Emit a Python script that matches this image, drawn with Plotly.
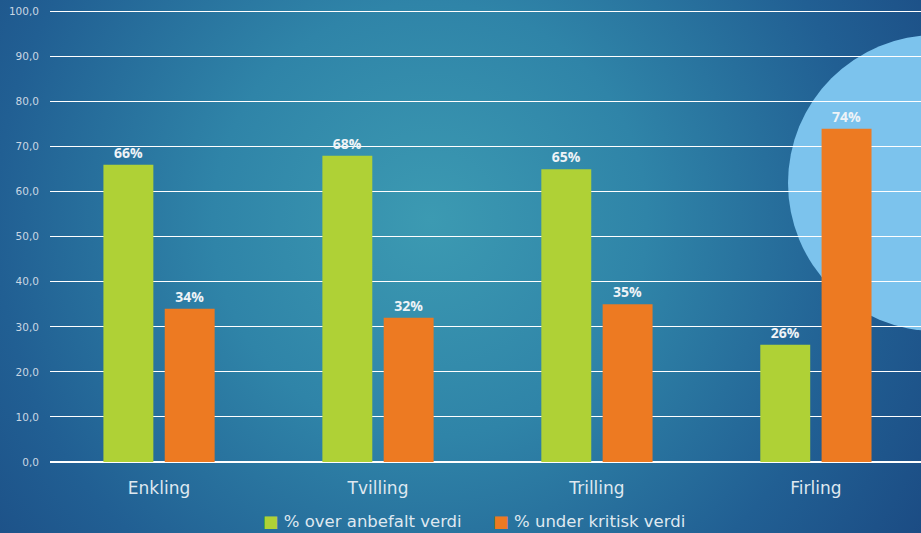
import base64
import plotly.graph_objects as go

categories = ["Enkling", "Tvilling", "Trilling", "Firling"]
over_anbefalt = [66, 68, 65, 26]
under_kritisk = [34, 32, 35, 74]
series_names = ["% over anbefalt verdi", "% under kritisk verdi"]
series_colors = ["#afd136", "#ed7a22"]
y_ticks = [0, 10, 20, 30, 40, 50, 60, 70, 80, 90, 100]

W, H = 921, 533
L, R, T, B = 50, 0, 7, 71
PW, PH = W - L - R, H - T - B
Y_MAX = 101

# Blue radial backdrop with a pale blue disc on the right edge
svg = f"""<svg xmlns='http://www.w3.org/2000/svg' width='{W}' height='{H}' viewBox='0 0 {W} {H}'>
<defs>
<radialGradient id='g' gradientUnits='userSpaceOnUse' cx='430' cy='220' r='620'>
<stop offset='0' stop-color='#3c9ab2'/>
<stop offset='0.35' stop-color='#2f84a8'/>
<stop offset='0.7' stop-color='#215f93'/>
<stop offset='1' stop-color='#1a4780'/>
</radialGradient>
</defs>
<rect width='{W}' height='{H}' fill='url(#g)'/>
<circle cx='936' cy='183' r='148' fill='#7cc3ed'/>
</svg>"""
bg_src = "data:image/svg+xml;base64," + base64.b64encode(svg.encode()).decode()

label_font = dict(family="'Open Sans', Lato, sans-serif", size=14, color="#eef3f7")
text_font = "'DejaVu Sans', 'Noto Sans', sans-serif"

bar_w = 0.228
half_gap = 0.026
fig = go.Figure()
for vals, name, col, off in [
    (over_anbefalt, series_names[0], series_colors[0], -bar_w - half_gap),
    (under_kritisk, series_names[1], series_colors[1], half_gap),
]:
    fig.add_trace(go.Bar(
        x=categories, y=vals, name=name,
        width=bar_w, offset=off,
        marker=dict(color=col, line=dict(width=0)),
        texttemplate="<b>%{y:.0f}%</b>", textposition="outside",
        textfont=label_font, cliponaxis=False,
    ))

# Legend drawn as one line of text with coloured squares
legend_text = "      ".join(
    f"<span style='color:{c}'>■</span> {n}" for n, c in zip(series_names, series_colors)
)

fig.update_layout(
    width=W, height=H,
    margin=dict(l=L, r=R, t=T, b=B, autoexpand=False),
    paper_bgcolor="#1a4780",
    plot_bgcolor="rgba(0,0,0,0)",
    barmode="overlay",
    separators=",.",
    showlegend=False,
    images=[dict(source=bg_src, xref="paper", yref="paper",
                 x=-L / PW, y=1 + T / PH, sizex=W / PW, sizey=H / PH,
                 xanchor="left", yanchor="top", sizing="stretch", layer="below")],
    annotations=[dict(
        text=legend_text, xref="paper", yref="paper",
        x=(474 - L) / PW, y=-(521 - (T + PH)) / PH,
        xanchor="center", yanchor="middle", showarrow=False,
        font=dict(family=text_font, size=16.5, color="#dfe8f0"),
    )],
    xaxis=dict(
        range=[-0.498, 3.48], showgrid=False, showline=False, ticks="",
        tickfont=dict(family=text_font, size=17, color="#dfe8f0"),
        ticklabelstandoff=14,
    ),
    yaxis=dict(
        range=[0, Y_MAX], tickvals=y_ticks, tickformat=".1f",
        showgrid=True, gridcolor="#ffffff", gridwidth=1,
        zeroline=True, zerolinecolor="#ffffff", zerolinewidth=1.5,
        showline=False, ticks="",
        tickfont=dict(family=text_font, size=10.5, color="#c9d6e3"),
        ticklabelstandoff=10,
    ),
)

fig.write_html("out.html")
